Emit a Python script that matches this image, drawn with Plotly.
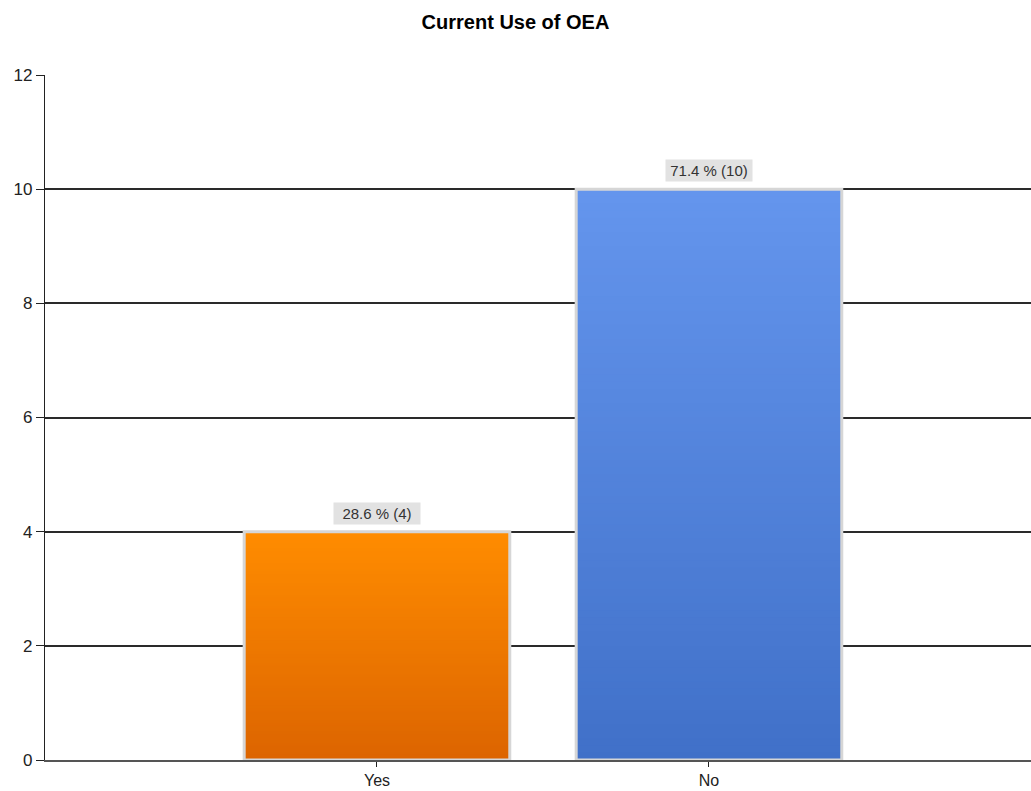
import plotly.graph_objects as go

categories = ["Yes", "No"]
counts = [4, 10]
percents = [28.6, 71.4]
top_colors = ["#FF8C00", "#6495ED"]
bottom_colors = ["#DC6400", "#4070C8"]
y_ticks = [0, 2, 4, 6, 8, 10, 12]

N = 80


def hex2rgb(h):
    h = h.lstrip("#")
    return [int(h[i:i + 2], 16) for i in (0, 2, 4)]


def mix(c1, c2, t):
    a, b = hex2rgb(c1), hex2rgb(c2)
    return "rgb(%d,%d,%d)" % tuple(round(a[i] + (b[i] - a[i]) * t) for i in range(3))


xs, ys, cols = [], [], []
for k in range(N, 0, -1):
    for i, v in enumerate(counts):
        xs.append(i)
        ys.append(v * k / N)
        cols.append(mix(bottom_colors[i], top_colors[i], k / N))

fig = go.Figure()
fig.add_trace(go.Bar(
    x=xs, y=ys, width=0.8,
    marker=dict(color=cols, line=dict(width=0)),
    hoverinfo="skip", showlegend=False,
))
fig.add_trace(go.Bar(
    x=list(range(len(categories))), y=counts, width=0.8,
    marker=dict(color="rgba(0,0,0,0)", line=dict(color="#d6d6d6", width=3)),
    hoverinfo="skip", showlegend=False,
))

for i, (v, p) in enumerate(zip(counts, percents)):
    fig.add_annotation(
        x=i, y=v, xref="x", yref="y",
        text=f"{p} % ({v})",
        showarrow=False, yanchor="bottom", yshift=7,
        bgcolor="#e2e2e2", width=84, height=19, borderpad=1,
        font=dict(family="Liberation Sans, Arial, sans-serif", size=15, color="#333333"),
    )

fig.update_layout(
    width=1031, height=791,
    barmode="overlay",
    paper_bgcolor="white", plot_bgcolor="white",
    margin=dict(l=45, r=0, t=75, b=31),
    title=dict(text="<b>Current Use of OEA</b>", x=0.5, xanchor="center",
               y=1 - 22 / 791, yanchor="middle",
               font=dict(family="Liberation Sans, Arial, sans-serif", size=20, color="black")),
    font=dict(family="Liberation Sans, Arial, sans-serif", size=17, color="#222222"),
)
fig.update_xaxes(
    range=[-1, 1.97], tickvals=list(range(len(categories))), ticktext=categories,
    showgrid=False, zeroline=False, showline=True, linecolor="#555555", linewidth=1.5,
    ticks="outside", ticklen=5, tickcolor="#222222", tickfont=dict(size=16),
    automargin=False,
)
fig.update_yaxes(
    range=[0, 12], tickvals=y_ticks, showgrid=True, gridcolor="#2a2a2a", gridwidth=1.5,
    zeroline=False, showline=True, linecolor="#222222", linewidth=1.2,
    ticks="outside", ticklen=8, tickcolor="#222222", tickfont=dict(size=17, color="#222222"),
    automargin=False,
)

fig.write_html("out.html")
